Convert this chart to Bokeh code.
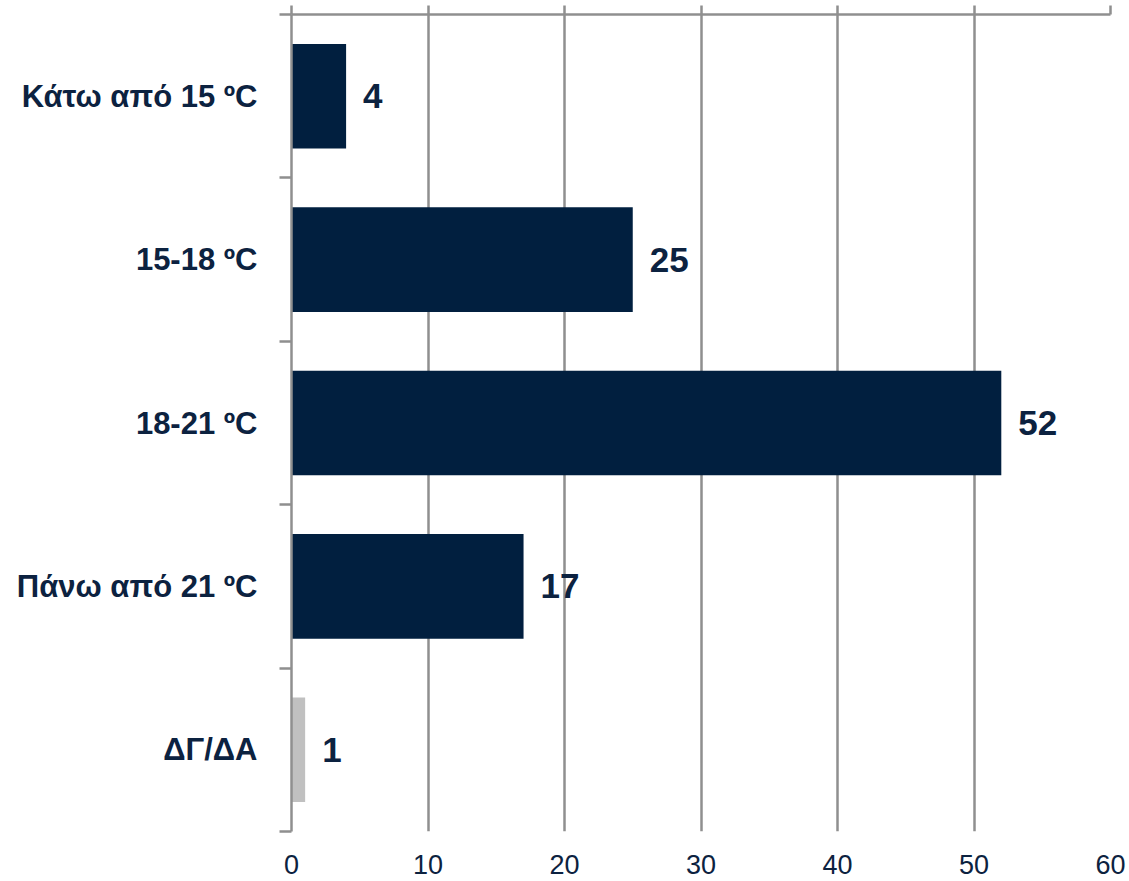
from bokeh.plotting import figure
from bokeh.models import Range1d, FixedTicker, LinearAxis, ColumnDataSource
from bokeh.core.properties import value
from bokeh.embed import file_html
from bokeh.resources import INLINE

categories = ["Κάτω από 15 ºC", "15-18 ºC", "18-21 ºC", "Πάνω από 21 ºC", "ΔΓ/ΔΑ"]
values = [4, 25, 52, 17, 1]
x_ticks = [0, 10, 20, 30, 40, 50, 60]

NAVY = "#011f3f"
GRAY_BAR = "#c0c0c0"
LINE = "#8f8f8f"
TEXT = "#0c2240"
FONT = "Liberation Sans"

centers = [i + 0.5 for i in range(len(categories))]
colors = [GRAY_BAR if c == "ΔΓ/ΔΑ" else NAVY for c in categories]
labels = [str(v) for v in values]

src = ColumnDataSource(dict(y=centers, v=values, color=colors, label=labels))

p = figure(width=1129, height=881, output_backend="svg", toolbar_location=None,
           x_range=Range1d(0, 60), y_range=Range1d(len(categories), 0),
           x_axis_location="below", y_axis_location="left",
           min_border_left=291, min_border_right=19, min_border_top=14, min_border_bottom=50)
p.outline_line_color = None
p.background_fill_color = "white"

p.hbar(y="y", left=0, right="v", height=0.64, fill_color="color", line_color=None, source=src)
p.text(x="v", y="y", text="label", source=src, x_offset=17, text_baseline="middle",
       text_align="left", text_font=value(FONT), text_font_style="bold",
       text_font_size="35px", text_color=TEXT)

xt = FixedTicker(ticks=x_ticks)
p.xgrid.ticker = xt
p.xgrid.grid_line_color = LINE
p.xgrid.grid_line_width = 2.5
p.ygrid.grid_line_color = None

xa = p.xaxis[0]
xa.ticker = xt
xa.axis_line_color = None
xa.major_tick_line_color = None
xa.minor_tick_line_color = None
xa.major_label_text_font = FONT
xa.major_label_text_font_size = "27px"
xa.major_label_text_color = TEXT
xa.major_label_standoff = 17

top = LinearAxis(ticker=xt)
top.axis_line_color = LINE
top.axis_line_width = 2.5
top.major_tick_line_color = LINE
top.major_tick_line_width = 2.5
top.major_tick_out = 9
top.major_tick_in = 0
top.minor_tick_line_color = None
top.major_label_text_font_size = "0px"
top.major_label_standoff = 0
top.major_label_text_alpha = 0
p.add_layout(top, "above")

ya = p.yaxis[0]
ya.ticker = FixedTicker(ticks=centers, minor_ticks=list(range(len(categories) + 1)))
ya.major_label_overrides = {c: cat for c, cat in zip(centers, categories)}
ya.axis_line_color = LINE
ya.axis_line_width = 2.5
ya.major_tick_line_color = None
ya.major_tick_out = 0
ya.major_tick_in = 0
ya.minor_tick_line_color = LINE
ya.minor_tick_line_width = 2.5
ya.minor_tick_out = 12
ya.minor_tick_in = 0
ya.major_label_text_font = FONT
ya.major_label_text_font_style = "bold"
ya.major_label_text_font_size = "31px"
ya.major_label_text_color = TEXT
ya.major_label_standoff = 22

open("out.html", "w").write(file_html(p, INLINE))
